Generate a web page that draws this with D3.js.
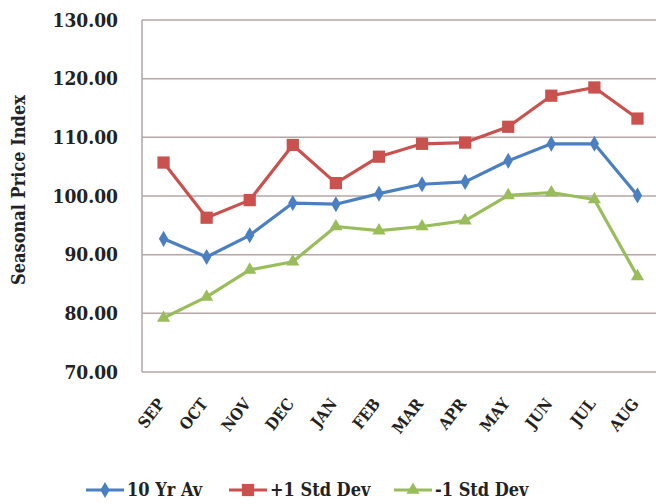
<!DOCTYPE html>
<html>
<head>
<meta charset="utf-8">
<script src="https://cdn.jsdelivr.net/npm/d3@7"></script>
<style>
  html, body { margin: 0; padding: 0; background: #fff; }
  svg { display: block; }
  text { font-family: "DejaVu Serif", serif; font-stretch: condensed; font-weight: bold; fill: #222; }
</style>
</head>
<body>
<svg id="chart" width="656" height="504"></svg>
<script>
// Seasonal price index by month
const months = ["SEP","OCT","NOV","DEC","JAN","FEB","MAR","APR","MAY","JUN","JUL","AUG"];
const avg10yr = [92.7, 89.6, 93.3, 98.8, 98.6, 100.4, 102.0, 102.4, 106.0, 108.9, 108.9, 100.1];
const plusStd = [105.7, 96.3, 99.3, 108.7, 102.2, 106.7, 108.9, 109.1, 111.8, 117.1, 118.5, 113.2];
const minusStd = [79.2, 82.8, 87.4, 88.8, 94.8, 94.1, 94.8, 95.8, 100.1, 100.6, 99.4, 86.3];
const yTicks = [70, 80, 90, 100, 110, 120, 130];

const series = [
  { name: "10 Yr Av", values: avg10yr, color: "#4a7fc1", marker: d3.symbolDiamond, size: 75 },
  { name: "+1 Std Dev", values: plusStd, color: "#c9514e", marker: d3.symbolSquare, size: 150 },
  { name: "-1 Std Dev", values: minusStd, color: "#98bd5a", marker: d3.symbolTriangle, size: 75 }
];

const svg = d3.select("#chart");
const plot = { left: 142, right: 659, top: 20, bottom: 372 };

const x = d3.scaleBand().domain(months).range([plot.left, plot.right]);
const y = d3.scaleLinear().domain([70, 130]).range([plot.bottom, plot.top]);
const cx = m => x(m) + x.bandwidth() / 2;

// horizontal gridlines
svg.append("g")
  .selectAll("line")
  .data(yTicks)
  .join("line")
  .attr("x1", plot.left).attr("x2", plot.right)
  .attr("y1", d => y(d)).attr("y2", d => y(d))
  .attr("stroke", "#b5a6a6").attr("stroke-width", 1.5);

// left axis line
svg.append("line")
  .attr("x1", plot.left).attr("x2", plot.left)
  .attr("y1", plot.top).attr("y2", plot.bottom)
  .attr("stroke", "#b5a6a6").attr("stroke-width", 1.5);

// y axis tick labels
const yAxis = d3.axisLeft(y).tickValues(yTicks).tickFormat(d3.format(".2f")).tickSize(0).tickPadding(24);
const yg = svg.append("g").attr("transform", `translate(${plot.left},0)`).call(yAxis);
yg.select(".domain").remove();
yg.selectAll("text")
  .style("font-size", "19px")
  .style("font-family", "'DejaVu Serif', serif")
  .style("font-stretch", "condensed")
  .style("font-weight", "bold")
  .attr("fill", "#222");

// x axis: month labels, drawn rotated under each band
const xg = svg.append("g").attr("transform", `translate(0,${plot.bottom})`);
xg.selectAll("text")
  .data(x.domain())
  .join("text")
  .attr("text-anchor", "end")
  .attr("transform", d => `translate(${cx(d) + 2},${32}) rotate(-52)`)
  .style("font-size", "16px")
  .text(d => d);

// y axis title
svg.append("text")
  .attr("transform", "translate(25,190) rotate(-90)")
  .attr("text-anchor", "middle")
  .style("font-size", "18px")
  .text("Seasonal Price Index");

// lines and markers
const line = d3.line().x((d, i) => cx(months[i])).y(d => y(d));
series.forEach(s => {
  svg.append("path")
    .datum(s.values)
    .attr("d", line)
    .attr("fill", "none")
    .attr("stroke", s.color)
    .attr("stroke-width", 3.2)
    .attr("stroke-linejoin", "round");
  svg.append("g")
    .selectAll("path")
    .data(s.values)
    .join("path")
    .attr("d", d3.symbol(s.marker, s.size))
    .attr("transform", (d, i) => `translate(${cx(months[i])},${y(d)})`)
    .attr("fill", s.color);
});

// legend
const legendX = [86, 229, 394];
const leg = svg.append("g").attr("transform", "translate(0,490)");
series.forEach((s, i) => {
  const g = leg.append("g").attr("transform", `translate(${legendX[i]},0)`);
  g.append("line").attr("x1", 0).attr("x2", 38).attr("stroke", s.color).attr("stroke-width", 3);
  g.append("path").attr("d", d3.symbol(s.marker, s.size)).attr("transform", "translate(19,0)").attr("fill", s.color);
  g.append("text").attr("x", 41).attr("y", 6).style("font-size", "18px").text(s.name);
});
</script>
</body>
</html>
